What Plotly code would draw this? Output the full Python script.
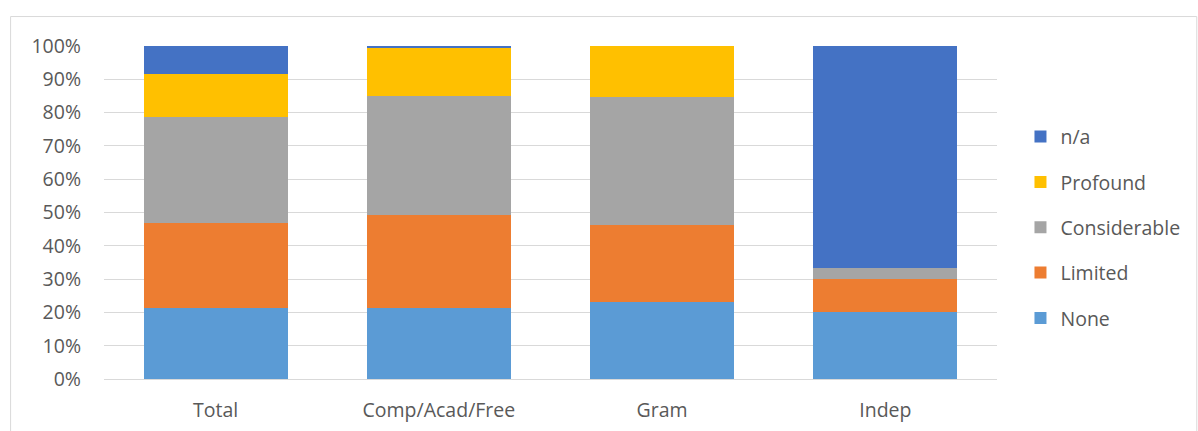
import plotly.graph_objects as go

categories = ["Total", "Comp/Acad/Free", "Gram", "Indep"]
none_vals = [21.2, 21.4, 23.0, 20.0]
limited_vals = [25.7, 28.0, 23.1, 9.9]
considerable_vals = [31.7, 35.6, 38.6, 3.4]
profound_vals = [12.9, 14.6, 15.3, 0.0]
na_vals = [8.5, 0.4, 0.0, 66.7]

series = [
    ("None", none_vals, "#5B9BD5"),
    ("Limited", limited_vals, "#ED7D31"),
    ("Considerable", considerable_vals, "#A5A5A5"),
    ("Profound", profound_vals, "#FFC000"),
    ("n/a", na_vals, "#4472C4"),
]

W, H = 1198, 431
ml, mr, mt, mb = 103.5, 200.5, 45.5, 52

fig = go.Figure()
for i, (name, vals, color) in enumerate(series):
    fig.add_trace(go.Bar(
        x=categories, y=vals, name=name, legendgroup=name,
        legendrank=len(series) - i,
        marker=dict(color=color, line=dict(width=0)),
    ))

font = dict(family="'Open Sans', Lato, sans-serif", size=19.5, color="#595959")

pw = W - ml - mr
ph = H - mt - mb

# light frame around the whole chart area
fig.add_shape(
    type="rect", xref="paper", yref="paper",
    x0=(10 - ml) / pw, x1=(W - 0.5 - ml) / pw,
    y0=-(H + 5 - (H - mb)) / ph, y1=(H - mb - 16) / ph,
    line=dict(color="#D9D9D9", width=1), fillcolor="rgba(0,0,0,0)", layer="below",
)

fig.update_layout(
    width=W, height=H,
    margin=dict(l=ml, r=mr, t=mt, b=mb, autoexpand=False),
    barmode="stack", bargap=0.355,
    plot_bgcolor="white", paper_bgcolor="white",
    font=font,
    showlegend=True,
    legend=dict(
        x=(1021 - ml) / pw, xanchor="left",
        y=(H - mb - 117) / ph, yanchor="top",
        traceorder="grouped", tracegroupgap=17,
        font=font, itemwidth=30,
    ),
    xaxis=dict(
        showgrid=False, showline=True, linecolor="#D9D9D9", linewidth=1,
        ticks="", tickfont=font, ticklabelstandoff=14,
    ),
    yaxis=dict(
        range=[0, 100], tickvals=list(range(0, 101, 10)),
        ticktext=[f"{v}%" for v in range(0, 101, 10)],
        showgrid=True, gridcolor="#D9D9D9", gridwidth=1,
        zeroline=True, zerolinecolor="#D9D9D9", zerolinewidth=1,
        showline=False, ticks="", tickfont=font, ticklabelstandoff=22,
    ),
)

fig.write_html("out.html")
